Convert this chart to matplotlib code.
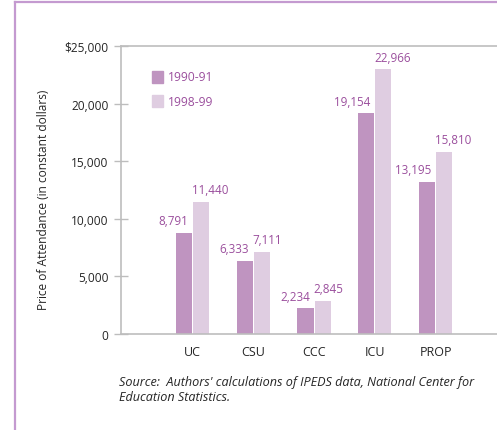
import numpy as np
import matplotlib
matplotlib.use("Agg")
import matplotlib.pyplot as plt
from matplotlib.patches import Rectangle
from matplotlib.lines import Line2D

# data
categories = ["UC", "CSU", "CCC", "ICU", "PROP"]
y1990 = [8791, 6333, 2234, 19154, 13195]
y1998 = [11440, 7111, 2845, 22966, 15810]
series_names = ["1990-91", "1998-99"]
yticks = [0, 5000, 10000, 15000, 20000, 25000]
ytick_labels = ["0", "5,000", "10,000", "15,000", "20,000", "$25,000"]

c_dark = "#bf94c0"
c_light = "#dfcde1"
c_text = "#9b4f9d"
c_grey = "#bdbdbd"
c_border = "#c49ad0"
c_dk = "#262626"

plt.rcParams["font.family"] = ["Open Sans", "DejaVu Sans"]

W, H = 497, 431
fig = plt.figure(figsize=(W / 100, H / 100), dpi=100)

# purple frame (top and left)
fig.add_artist(Line2D([15 / W, 1], [1 - 3 / H, 1 - 3 / H], color=c_border, lw=1.6, transform=fig.transFigure))
fig.add_artist(Line2D([15 / W, 15 / W], [0, 1 - 3 / H], color=c_border, lw=1.6, transform=fig.transFigure))

left, right, top, bottom = 121, 497, 47, 335
ax = fig.add_axes([left / W, 1 - bottom / H, (right - left) / W, (bottom - top) / H])

x = np.arange(len(categories))
bw = 0.265
gap = 0.008
ax.bar(x - bw / 2 - gap, y1990, width=bw, color=c_dark, edgecolor="none")
ax.bar(x + bw / 2 + gap, y1998, width=bw, color=c_light, edgecolor="none")

for xi, v in zip(x, y1990):
    ax.text(xi - gap - 0.06, v + 500, f"{v:,}", ha="right", va="bottom", color=c_text, fontsize=8.4)
for xi, v in zip(x, y1998):
    ax.text(xi + gap - 0.02, v + 500, f"{v:,}", ha="left", va="bottom", color=c_text, fontsize=8.4)

ax.set_xlim(-1.177, 5.01)
ax.set_ylim(0, 25000)
ax.set_yticks(yticks)
ax.set_yticklabels(ytick_labels, fontsize=8.6, color=c_dk)
ax.set_xticks(x)
ax.set_xticklabels(categories, fontsize=9, color=c_dk)
ax.tick_params(axis="y", direction="inout", length=10, color=c_grey, width=1, pad=4)
ax.tick_params(axis="x", length=0, pad=8)
for s in ["left", "top", "bottom"]:
    ax.spines[s].set_color(c_grey)
    ax.spines[s].set_linewidth(1.2)
ax.spines["right"].set_visible(False)

ax.set_ylabel("Price of Attendance (in constant dollars)", fontsize=8.6, color=c_dk)
ax.yaxis.set_label_coords(-0.189, 0.469)

# legend
for i, (name, col) in enumerate(zip(series_names, [c_dark, c_light])):
    yb = [0.8715, 0.788][i]
    ax.add_patch(Rectangle((0.0824, yb), 0.03, 0.0417, transform=ax.transAxes, color=col, clip_on=False))
    ax.text(0.125, yb + 0.021, name, transform=ax.transAxes, ha="left", va="center", color=c_text, fontsize=8.7)

fig.text(119 / W, 1 - 390 / H, "Source:  Authors' calculations of IPEDS data, National Center for\nEducation Statistics.",
         ha="left", va="center", style="italic", fontsize=9.1, color=c_dk, linespacing=1.15)

fig.savefig("out.png", dpi=100)
